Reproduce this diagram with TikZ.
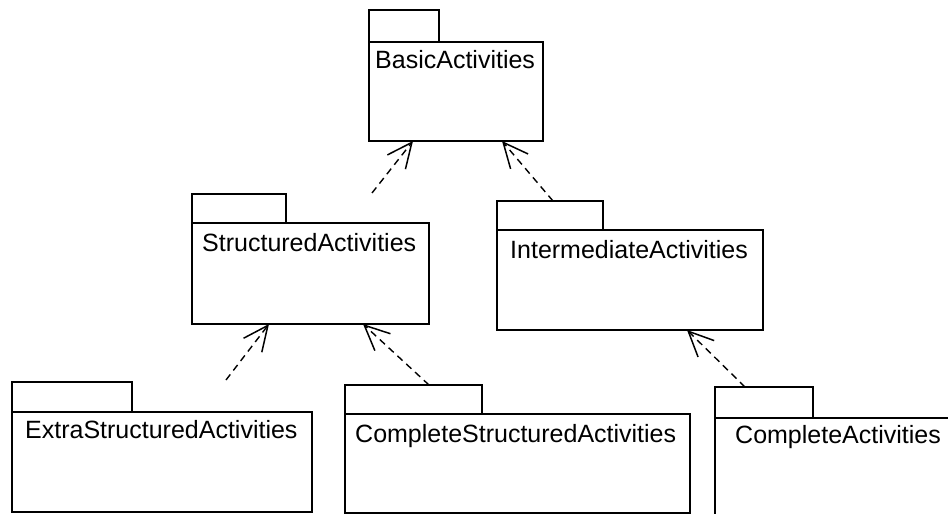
\documentclass[tikz,border=0pt]{standalone}
\usepackage{fontspec}
\setmainfont{Liberation Sans}
\usetikzlibrary{arrows.meta}
\begin{document}
\begin{tikzpicture}[x=1pt,y=-1pt,
  pkgline/.style={draw, line width=1.5pt, rectangle, anchor=north west, inner sep=0pt, outer sep=0pt},
  lbl/.style={anchor=base west, inner sep=0pt, font=\fontsize{25}{30}\selectfont},
  dep/.style={line width=1.4pt, dash pattern=on 7pt off 5pt,
    -{Straight Barb[length=25pt,width=23pt,line width=1.5pt]}}]
\clip (0,0) rectangle (948,514);
% BasicActivities
\node[pkgline, minimum width=70pt, minimum height=32pt] (basictab) at (369,10) {};
\node[pkgline, minimum width=174pt, minimum height=99pt] (basic) at (369,42) {};
\node[lbl] (basiclbl) at (375,68) {BasicActivities};
% StructuredActivities
\node[pkgline, minimum width=94pt, minimum height=29pt] (structtab) at (192,194) {};
\node[pkgline, minimum width=237pt, minimum height=101pt] (struct) at (192,223) {};
\node[lbl] (structlbl) at (202,251) {StructuredActivities};
% IntermediateActivities
\node[pkgline, minimum width=106pt, minimum height=29pt] (intertab) at (497,201) {};
\node[pkgline, minimum width=266pt, minimum height=100pt] (inter) at (497,230) {};
\node[lbl] (interlbl) at (510,258) {IntermediateActivities};
% ExtraStructuredActivities
\node[pkgline, minimum width=120pt, minimum height=30pt] (extratab) at (12,382) {};
\node[pkgline, minimum width=300pt, minimum height=100pt] (extra) at (12,412) {};
\node[lbl] (extralbl) at (25,438) {ExtraStructuredActivities};
% CompleteStructuredActivities
\node[pkgline, minimum width=137pt, minimum height=29pt] (cstructtab) at (345,385) {};
\node[pkgline, minimum width=345pt, minimum height=99pt] (cstruct) at (345,414) {};
\node[lbl] (cstructlbl) at (355,442) {CompleteStructuredActivities};
% CompleteActivities
\node[pkgline, minimum width=98pt, minimum height=31pt] (cacttab) at (715,387) {};
\node[pkgline, minimum width=260pt, minimum height=120pt] (cact) at (715,418) {};
\node[lbl] (cactlbl) at (735,443) {CompleteActivities};
% free ends
\coordinate (s1) at (372,193);
\coordinate (s2) at (226,380);
% dependencies
\draw[dep] (s1) -- ([xshift=44pt]basic.south west);
\draw[dep] ([xshift=56pt]intertab.north west) -- ([xshift=133pt]basic.south west);
\draw[dep] (s2) -- ([xshift=77pt]struct.south west);
\draw[dep] ([xshift=84pt]cstructtab.north west) -- ([xshift=171pt]struct.south west);
\draw[dep] ([xshift=30pt]cacttab.north west) -- ([xshift=190pt]inter.south west);
\end{tikzpicture}
\end{document}
